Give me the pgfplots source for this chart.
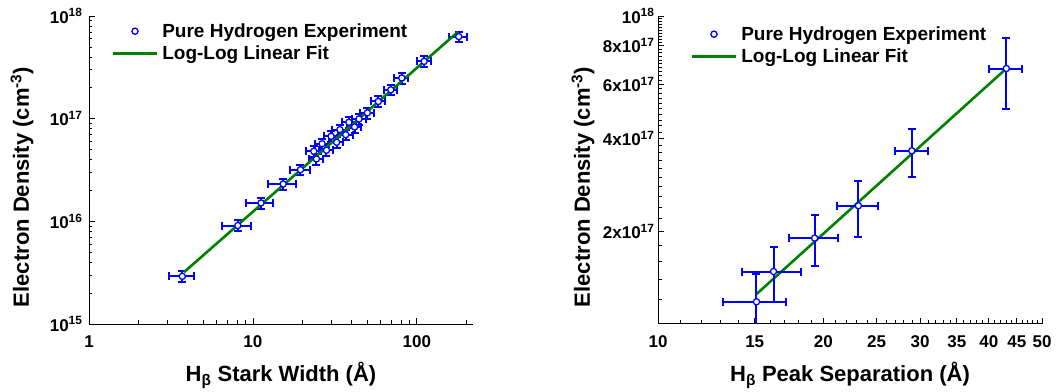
\documentclass[border=0pt]{standalone}
\usepackage{pgfplots}
\usepackage{pgfplotstable}
\pgfplotsset{compat=1.18}
\usepackage{fontspec}
\setmainfont{Liberation Sans}
\definecolor{fitgreen}{RGB}{0,128,0}
\definecolor{ptblue}{RGB}{0,0,255}

\pgfplotstableread{
x y ex ey
3.71 2.91e15 0.64 0.12
8.09 9.1e15 1.65 0.12
11.2 1.51e16 2.1 0.12
15.3 2.31e16 2.9 0.12
19.5 3.18e16 2.7 0.12
23.5 4.81e16 2.4 0.12
24.4 4.05e16 2.4 0.12
26.4 5.70e16 2.6 0.12
28.1 4.92e16 2.8 0.12
30.0 6.73e16 3.0 0.12
32.4 5.88e16 3.2 0.12
33.9 7.82e16 3.4 0.12
36.8 6.98e16 3.7 0.12
38.5 9.21e16 3.8 0.12
41.7 8.30e16 4.2 0.12
44.4 9.93e16 4.4 0.12
49.9 1.14e17 5.0 0.12
58.2 1.47e17 5.8 0.12
69.3 1.91e17 6.5 0.12
80.9 2.49e17 8.0 0.12
110.8 3.61e17 11 0.12
180 6.3e17 22 0.12
}\leftdata

\pgfplotstableread{
x y
3.8 3.2e15
178 7.0e17
}\leftfit

\pgfplotstableread{
x y ex ey
15.11 1.18e17 2 0.27e17
16.23 1.48e17 2 0.30e17
19.28 1.90e17 2 0.36e17
23.16 2.42e17 2 0.50e17
28.97 3.65e17 2 0.66e17
43.06 6.75e17 3 1.75e17
}\rightdata

\pgfplotstableread{
x y
15.11 1.25e17
43.06 6.75e17
}\rightfit

\begin{document}
\begin{tikzpicture}
\useasboundingbox (-89pt,-67pt) rectangle (973pt,324pt);

\begin{axis}[
  xmode=log, ymode=log, scale only axis, width=384pt, height=308pt,
  axis lines=left, axis line style={-, line width=0.9pt, black},
  tick align=inside, major tick length=6pt, minor tick length=3.5pt,
  major tick style={line width=0.8pt, black},
  minor tick style={line width=0.6pt, black},
  tick label style={font=\fontsize{17}{17}\selectfont\bfseries},
  xticklabel style={yshift=-8pt},
  yticklabel style={xshift=-3pt},
  label style={font=\fontsize{22}{22}\selectfont\bfseries},
  xlabel style={at={(axis description cs:0.5,-0.188)}, anchor=base},
  ylabel style={at={(axis description cs:-0.1745,0.445)}, anchor=center},
  legend style={draw=none, fill=none, font=\fontsize{19}{19}\selectfont\bfseries,
    at={(axis description cs:0.0586,0.9825)}, anchor=north west, inner sep=0pt,
    row sep=3pt, column sep=2pt},
  legend cell align=left,
  xmin=1, xmax=220, ymin=1e15, ymax=1e18,
  xtick={1,10,100}, xticklabels={1,10,100},
  minor xtick={2,3,4,5,6,7,8,9,20,30,40,50,60,70,80,90,200},
  ytick={1e15,1e16,1e17,1e18},
  yticklabels={10\textsuperscript{15},10\textsuperscript{16},10\textsuperscript{17},10\textsuperscript{18}},
  minor ytick={2e15,3e15,4e15,5e15,6e15,7e15,8e15,9e15,2e16,3e16,4e16,5e16,6e16,7e16,8e16,9e16,2e17,3e17,4e17,5e17,6e17,7e17,8e17,9e17},
  xlabel={H\textsubscript{β} Stark Width (Å)},
  ylabel={Electron Density (cm\textsuperscript{-3})},
]
\addplot[only marks, mark=*, mark size=3.1pt,
   mark options={fill=white, draw=ptblue, line width=1.3pt},
   error bars/x dir=both, error bars/y dir=both,
   error bars/x explicit, error bars/y explicit relative,
   error bars/error bar style={line width=2pt, ptblue},
   error bars/error mark options={rotate=90, mark size=4pt, line width=2pt, ptblue},
   legend image code/.code={\draw[only marks, mark=*, mark size=3.1pt, mark options={fill=white, draw=ptblue, line width=1.3pt}] plot coordinates {(22pt,0pt)};}]
  table[x=x, y=y, x error=ex, y error=ey] {\leftdata};
\addlegendentry{Pure Hydrogen Experiment}
\addplot[no marks, fitgreen, line width=2.6pt,
   legend image code/.code={\draw[fitgreen, line width=2.6pt] (0pt,0pt) -- (44pt,0pt);}]
   table[x=x, y=y] {\leftfit};
\addlegendentry{Log-Log Linear Fit}
\end{axis}

\begin{axis}[at={(569pt,0pt)}, anchor=south west,
  xmode=log, ymode=log, scale only axis, width=384pt, height=308pt,
  axis lines=left, axis line style={-, line width=0.9pt, black},
  tick align=inside, major tick length=6pt, minor tick length=3.5pt,
  major tick style={line width=0.8pt, black},
  minor tick style={line width=0.6pt, black},
  tick label style={font=\fontsize{17}{17}\selectfont\bfseries},
  xticklabel style={yshift=-8pt},
  label style={font=\fontsize{22}{22}\selectfont\bfseries},
  xlabel style={at={(axis description cs:0.5,-0.188)}, anchor=base},
  ylabel style={at={(axis description cs:-0.195,0.445)}, anchor=center},
  legend style={draw=none, fill=none, font=\fontsize{19}{19}\selectfont\bfseries,
    at={(axis description cs:0.0846,0.9727)}, anchor=north west, inner sep=0pt,
    row sep=3pt, column sep=2pt},
  legend cell align=left,
  xmin=10, xmax=50, ymin=1e17, ymax=1e18,
  xtick={10,15,20,25,30,35,40,45,50},
  xticklabels={10,15,20,25,30,35,40,45,50},
  minor xtick={11,12,13,14,16,17,18,19,21,22,23,24,26,27,28,29,31,32,33,34,36,37,38,39,41,42,43,44,46,47,48,49},
  ytick={2e17,4e17,6e17,8e17,1e18},
  yticklabels={2x10\textsuperscript{17},4x10\textsuperscript{17},6x10\textsuperscript{17},8x10\textsuperscript{17},10\textsuperscript{18}},
  minor ytick={1.2e17,1.4e17,1.6e17,1.8e17,2.2e17,2.4e17,2.6e17,2.8e17,3e17,3.2e17,3.4e17,3.6e17,3.8e17,4.2e17,4.4e17,4.6e17,4.8e17,5e17,5.2e17,5.4e17,5.6e17,5.8e17,6.2e17,6.4e17,6.6e17,6.8e17,7e17,7.2e17,7.4e17,7.6e17,7.8e17,8.2e17,8.4e17,8.6e17,8.8e17,9e17,9.2e17,9.4e17,9.6e17,9.8e17},
  xlabel={H\textsubscript{β} Peak Separation (Å)},
  ylabel={Electron Density (cm\textsuperscript{-3})},
  reverse legend,
]
\addplot[no marks, fitgreen, line width=2.6pt,
   legend image code/.code={\draw[fitgreen, line width=2.6pt] (0pt,0pt) -- (44pt,0pt);}]
   table[x=x, y=y] {\rightfit};
\addlegendentry{Log-Log Linear Fit}
\addplot[only marks, mark=*, mark size=3.1pt,
   mark options={fill=white, draw=ptblue, line width=1.3pt},
   error bars/x dir=both, error bars/y dir=both,
   error bars/x explicit, error bars/y explicit,
   error bars/error bar style={line width=2pt, ptblue},
   error bars/error mark options={rotate=90, mark size=4pt, line width=2pt, ptblue},
   legend image code/.code={\draw[only marks, mark=*, mark size=3.1pt, mark options={fill=white, draw=ptblue, line width=1.3pt}] plot coordinates {(22pt,0pt)};}]
  table[x=x, y=y, x error=ex, y error=ey] {\rightdata};
\addlegendentry{Pure Hydrogen Experiment}
\end{axis}
\end{tikzpicture}
\end{document}
